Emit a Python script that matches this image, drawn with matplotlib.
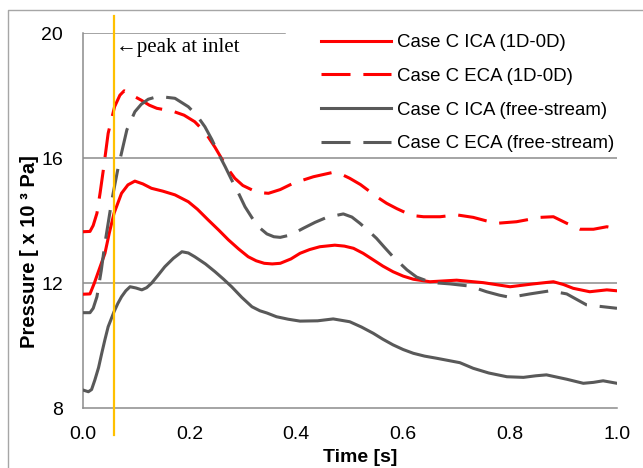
import matplotlib
matplotlib.use("Agg")
import matplotlib.pyplot as plt
import matplotlib.transforms as mtransforms
from matplotlib.lines import Line2D

# --------------------------
# Data
# --------------------------
t_ica_1d = [0.0, 0.014, 0.022, 0.033, 0.042, 0.050, 0.059, 0.073, 0.085, 0.098,
            0.113, 0.129, 0.150, 0.173, 0.198, 0.215, 0.235, 0.255, 0.273, 0.292,
            0.310, 0.325, 0.340, 0.355, 0.370, 0.390, 0.407, 0.425, 0.444, 0.472,
            0.490, 0.507, 0.525, 0.544, 0.562, 0.581, 0.600, 0.619, 0.650, 0.700,
            0.750, 0.800, 0.843, 0.881, 0.900, 0.918, 0.949, 0.981, 1.0]
p_ica_1d = [11.65, 11.66, 12.00, 12.53, 12.96, 13.60, 14.24, 14.88, 15.15, 15.27,
            15.18, 15.04, 14.95, 14.83, 14.61, 14.37, 14.03, 13.70, 13.39, 13.10,
            12.85, 12.72, 12.64, 12.62, 12.64, 12.78, 12.96, 13.08, 13.17, 13.22,
            13.19, 13.12, 12.96, 12.75, 12.55, 12.37, 12.23, 12.13, 12.05, 12.10,
            12.02, 11.89, 11.98, 12.05, 11.96, 11.84, 11.73, 11.79, 11.76]

t_eca_1d = [0.0, 0.014, 0.020, 0.027, 0.033, 0.039, 0.048, 0.060, 0.070, 0.078,
            0.088, 0.098, 0.111, 0.125, 0.139, 0.155, 0.170, 0.190, 0.210, 0.222,
            0.235, 0.248, 0.260, 0.272, 0.285, 0.300, 0.317, 0.332, 0.348, 0.370,
            0.394, 0.432, 0.466, 0.483, 0.500, 0.520, 0.538, 0.553, 0.569, 0.588,
            0.607, 0.622, 0.638, 0.669, 0.700, 0.731, 0.755, 0.775, 0.812, 0.856,
            0.881, 0.906, 0.931, 0.956, 0.981, 1.0]
p_eca_1d = [13.65, 13.66, 13.85, 14.24, 14.90, 15.63, 16.80, 17.65, 18.02, 18.16,
            18.08, 17.97, 17.85, 17.70, 17.60, 17.55, 17.50, 17.38, 17.17, 16.96,
            16.69, 16.35, 16.00, 15.66, 15.36, 15.13, 14.99, 14.90, 14.88, 15.00,
            15.20, 15.41, 15.54, 15.50, 15.36, 15.16, 14.93, 14.74, 14.56, 14.39,
            14.24, 14.16, 14.13, 14.13, 14.19, 14.11, 14.00, 13.92, 13.97, 14.11,
            14.13, 13.92, 13.73, 13.73, 13.81, 13.74]

t_ica_fs = [0.0, 0.011, 0.017, 0.023, 0.030, 0.036, 0.042, 0.048, 0.059, 0.066,
            0.073, 0.081, 0.089, 0.100, 0.111, 0.120, 0.129, 0.141, 0.154, 0.170,
            0.186, 0.198, 0.210, 0.230, 0.248, 0.264, 0.279, 0.298, 0.317, 0.332,
            0.345, 0.363, 0.385, 0.407, 0.440, 0.469, 0.500, 0.522, 0.544, 0.562,
            0.581, 0.600, 0.619, 0.640, 0.663, 0.706, 0.731, 0.760, 0.794, 0.825,
            0.848, 0.868, 0.906, 0.937, 0.956, 0.974, 1.0]
p_ica_fs = [8.59, 8.53, 8.60, 8.90, 9.30, 9.76, 10.20, 10.61, 11.09, 11.35,
            11.57, 11.76, 11.89, 11.85, 11.79, 11.86, 12.00, 12.25, 12.53, 12.80,
            13.01, 12.97, 12.85, 12.62, 12.37, 12.13, 11.89, 11.55, 11.25, 11.12,
            11.05, 10.93, 10.85, 10.79, 10.80, 10.86, 10.77, 10.60, 10.40, 10.21,
            10.03, 9.88, 9.76, 9.67, 9.60, 9.46, 9.28, 9.13, 9.01, 8.99,
            9.04, 9.07, 8.93, 8.80, 8.83, 8.88, 8.80]

t_eca_fs = [0.0, 0.014, 0.020, 0.027, 0.035, 0.042, 0.055, 0.067, 0.083, 0.098,
            0.110, 0.123, 0.135, 0.148, 0.173, 0.198, 0.214, 0.229, 0.242, 0.254,
            0.267, 0.279, 0.292, 0.304, 0.317, 0.329, 0.345, 0.358, 0.370, 0.390,
            0.413, 0.435, 0.457, 0.488, 0.504, 0.519, 0.535, 0.550, 0.565, 0.581,
            0.607, 0.625, 0.644, 0.665, 0.688, 0.725, 0.756, 0.780, 0.800, 0.837,
            0.875, 0.906, 0.925, 0.943, 0.974, 1.0]
p_eca_fs = [11.06, 11.06, 11.20, 11.57, 12.40, 13.28, 14.67, 15.73, 16.91, 17.49,
            17.73, 17.89, 17.95, 17.97, 17.92, 17.65, 17.37, 17.01, 16.60, 16.16,
            15.73, 15.31, 14.88, 14.45, 14.10, 13.81, 13.58, 13.49, 13.47, 13.55,
            13.76, 13.95, 14.11, 14.22, 14.12, 13.92, 13.68, 13.44, 13.15, 12.85,
            12.43, 12.20, 12.08, 12.01, 11.98, 11.91, 11.73, 11.62, 11.55, 11.66,
            11.76, 11.66, 11.48, 11.31, 11.25, 11.20]

peak_time = 0.059

x_ticks = [0.0, 0.2, 0.4, 0.6, 0.8, 1.0]
x_tick_labels = ["0.0", "0.2", "0.4", "0.6", "0.8", "1.0"]
y_ticks = [8, 12, 16, 20]
y_tick_labels = ["8", "12", "16", "20"]

labels = [
    "Case C ICA (1D-0D)",
    "Case C ECA (1D-0D)",
    "Case C ICA (free-stream)",
    "Case C ECA (free-stream)",
]

# --------------------------
# Style
# --------------------------
plt.rcParams["font.family"] = ["Liberation Sans", "DejaVu Sans"]

RED = "#ff0000"
GRAY = "#595959"
GRID = "#8c8c8c"
LW = 2.2
DASH = (9.5, 4.2)

W, H = 643, 468
fig = plt.figure(figsize=(W / 100, H / 100), dpi=100)

x0, x1 = 82.5, 617.0
y_top, y_bot = 33.3, 408.3
ax = fig.add_axes([x0 / W, 1 - y_bot / H, (x1 - x0) / W, (y_bot - y_top) / H])

# outer chart border
fig.add_artist(Line2D([8 / W, 8 / W, 1.0], [0.0, 1 - 10 / H, 1 - 10 / H],
                      transform=fig.transFigure, color="#a6a6a6", lw=1.0))

# grid lines (top one stops where the legend sits)
for yv in y_ticks[1:-1]:
    ax.axhline(yv, color=GRID, lw=1.1, zorder=1)
ax.axhline(y_ticks[-1], xmax=(285 - x0) / (x1 - x0), color=GRID, lw=1.1, zorder=1)

ax.plot(t_ica_1d, p_ica_1d, color=RED, lw=LW, label=labels[0], zorder=3)
ax.plot(t_eca_1d, p_eca_1d, color=RED, lw=LW, dashes=DASH, label=labels[1], zorder=3)
ax.plot(t_ica_fs, p_ica_fs, color=GRAY, lw=LW, label=labels[2], zorder=3)
ax.plot(t_eca_fs, p_eca_fs, color=GRAY, lw=LW, dashes=DASH, label=labels[3], zorder=3)

# inlet peak marker
blend = mtransforms.blended_transform_factory(ax.transData, ax.transAxes)
ax.plot([peak_time, peak_time], [-0.072, 1.046], transform=blend,
        color="#ffc000", lw=1.6, clip_on=False, zorder=4)
ax.annotate("\u2190peak at inlet", xy=(peak_time, 20), xytext=(1.5, -10),
            textcoords="offset points", ha="left", va="center",
            fontsize=15, family=["Liberation Serif", "DejaVu Serif"])

ax.set_xlim(0, 1)
ax.set_ylim(8, 20)
ax.set_xticks(x_ticks)
ax.set_xticklabels(x_tick_labels)
ax.set_yticks(y_ticks)
ax.set_yticklabels(y_tick_labels)
ax.tick_params(length=0, labelsize=14, colors="black")
ax.tick_params(axis="y", pad=14)
ax.tick_params(axis="x", pad=13)

for side in ["top", "right"]:
    ax.spines[side].set_visible(False)
for side in ["left", "bottom"]:
    ax.spines[side].set_color(GRID)
    ax.spines[side].set_linewidth(1.1)

fig.text(360 / W, 1 - 457 / H, "Time [s]", ha="center", va="center",
         fontsize=14, fontweight="bold")
fig.text(29.5 / W, 1 - 252 / H, "Pressure [ x 10 \u00b3 Pa]", ha="center",
         va="center", rotation=90, fontsize=14.5, fontweight="bold")

ax.legend(loc="upper left", bbox_to_anchor=(321 / W, 1 - 34 / H),
          bbox_transform=fig.transFigure, frameon=False, fontsize=13.4,
          handlelength=3.76, handletextpad=0.32, labelspacing=0.9,
          borderpad=0, borderaxespad=0)

fig.savefig("out.png", dpi=100)
